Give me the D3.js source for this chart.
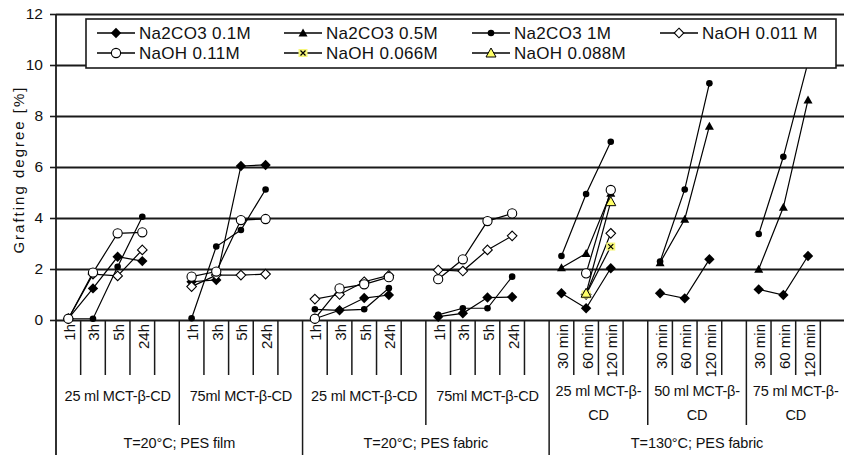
<!DOCTYPE html>
<html>
<head>
<meta charset="utf-8">
<script src="https://cdn.jsdelivr.net/npm/d3@7"></script>
<style>
  html, body { margin: 0; padding: 0; background: #fff; }
  svg { display: block; }
  text { font-family: "Liberation Sans", Arial, sans-serif; fill: #111; }
</style>
</head>
<body>
<svg id="chart" width="844" height="455"></svg>
<script>
// ---------------- DATA ----------------
const timeLabels = [
  "1h","3h","5h","24h","",
  "1h","3h","5h","24h","",
  "1h","3h","5h","24h","",
  "1h","3h","5h","24h","",
  "30 min","60 min","120 min","",
  "30 min","60 min","120 min","",
  "30 min","60 min","120 min",""
];
const subGroupLabels = [
  ["25 ml MCT-β-CD"], ["75ml MCT-β-CD"],
  ["25 ml MCT-β-CD"], ["75ml MCT-β-CD"],
  ["25 ml MCT-β-", "CD"], ["50 ml MCT-β-", "CD"], ["75 ml MCT-β-", "CD"]
];
const subGroupSizes = [5, 5, 5, 5, 4, 4, 4];
const topGroupLabels = ["T=20°C; PES film", "T=20°C; PES fabric", "T=130°C; PES fabric"];
const topGroupSizes = [10, 10, 12];
const yTicks = [0, 2, 4, 6, 8, 10, 12];

const seriesNames = ["Na2CO3 0.1M", "Na2CO3 0.5M", "Na2CO3 1M", "NaOH 0.011 M",
                     "NaOH 0.11M", "NaOH 0.066M", "NaOH 0.088M"];

const na2co3_01 = [0.05, 1.24, 2.48, 2.31, null,  1.5, 1.57, 6.04, 6.08, null,
                   0.05, 0.38, 0.86, 0.98, null,  0.13, 0.26, 0.88, 0.9, null,
                   1.05, 0.46, 2.03, null,  1.05, 0.85, 2.38, null,  1.2, 0.98, 2.51, null];
const na2co3_05 = [null, null, null, null, null,  null, null, null, null, null,
                   null, null, null, null, null,  null, null, null, null, null,
                   2.05, 2.61, 4.97, null,  2.25, 3.95, 7.6, null,  1.99, 4.42, 8.63, null];
const na2co3_1  = [0.05, 0.05, 2.09, 4.05, null,  0.07, 2.88, 3.53, 5.12, null,
                   0.42, 0.38, 0.42, 1.25, null,  0.2, 0.46, 0.46, 1.7, null,
                   2.51, 4.94, 6.99, null,  2.29, 5.12, 9.28, null,  3.37, 6.4, 10.1, null];
const naoh_0011 = [0.05, 1.8, 1.73, 2.75, null,  1.31, 1.76, 1.76, 1.8, null,
                   0.82, 1.0, 1.5, 1.75, null,  1.96, 1.92, 2.75, 3.3, null,
                   null, 1.0, 3.4, null,  null, null, null, null,  null, null, null, null];
const naoh_011  = [0.05, 1.86, 3.4, 3.44, null,  1.7, 1.9, 3.92, 3.96, null,
                   0.05, 1.24, 1.4, 1.68, null,  1.6, 2.38, 3.88, 4.18, null,
                   null, 1.83, 5.1, null,  null, null, null, null,  null, null, null, null];
const naoh_0066 = [null, null, null, null, null,  null, null, null, null, null,
                   null, null, null, null, null,  null, null, null, null, null,
                   null, 1.0, 2.88, null,  null, null, null, null,  null, null, null, null];
const naoh_0088 = [null, null, null, null, null,  null, null, null, null, null,
                   null, null, null, null, null,  null, null, null, null, null,
                   null, 1.05, 4.64, null,  null, null, null, null,  null, null, null, null];

const seriesValues = [na2co3_01, na2co3_05, na2co3_1, naoh_0011, naoh_011, naoh_0066, naoh_0088];
const seriesMarkers = ["diamondFilled", "triangleFilled", "dot", "diamondOpen", "circleOpen", "xYellow", "triYellow"];

// ---------------- CHART ----------------
const svg = d3.select("#chart");
const W = 844, H = 455;
const x = d3.scaleBand().domain(d3.range(timeLabels.length)).range([56, 845]).padding(0);
const y = d3.scaleLinear().domain([0, 12]).range([320, 14]);
const bw = x.bandwidth();

// gridlines
const grid = svg.append("g").attr("transform", "translate(56,0)")
  .call(d3.axisRight(y).tickValues(yTicks).tickSize(W - 56).tickFormat(""));
grid.select(".domain").remove();
grid.selectAll("line").attr("stroke", "#1a1a1a").attr("stroke-width", 1.9);

// y axis
const yAxis = svg.append("g").attr("transform", "translate(56,0)")
  .call(d3.axisLeft(y).tickValues(yTicks).tickSize(6).tickPadding(7).tickFormat(d3.format("d")));
yAxis.select(".domain").remove();
yAxis.selectAll("line").attr("stroke", "#1a1a1a").attr("stroke-width", 1.6);
yAxis.selectAll("text").attr("font-size", 15.5).style("font-family", '"Liberation Sans", Arial, sans-serif').attr("fill", "#111");

// vertical axis line extending down through category area
svg.append("line").attr("x1", 56).attr("x2", 56).attr("y1", 14).attr("y2", H)
  .attr("stroke", "#1a1a1a").attr("stroke-width", 1.8);

// y title
svg.append("text")
  .attr("transform", `translate(18,${y(5.9)}) rotate(-90)`)
  .attr("text-anchor", "middle").attr("dominant-baseline", "central")
  .attr("font-size", 15).attr("letter-spacing", 2).text("Grafting degree [%]");

// category boundary lines
const subBounds = new Set(d3.cumsum(subGroupSizes));
const topBounds = new Set(d3.cumsum(topGroupSizes));
for (let b = 1; b < timeLabels.length; b++) {
  let y2 = 375;
  if (topBounds.has(b)) y2 = H; else if (subBounds.has(b)) y2 = 425;
  svg.append("line").attr("x1", x(b)).attr("x2", x(b)).attr("y1", 320).attr("y2", y2)
    .attr("stroke", "#1a1a1a").attr("stroke-width", 1.5);
}

// time labels
timeLabels.forEach((t, i) => {
  if (!t) return;
  svg.append("text")
    .attr("transform", `translate(${x(i) + bw / 2 + 1},324) rotate(-90)`)
    .attr("text-anchor", "end").attr("dominant-baseline", "central")
    .attr("font-size", 15).text(t);
});

// sub group labels
let start = 0;
subGroupSizes.forEach((s, gi) => {
  const cx = x(start) + (s * bw) / 2;
  const lines = subGroupLabels[gi];
  lines.forEach((ln, li) => {
    svg.append("text").attr("x", cx)
      .attr("y", lines.length === 1 ? 396 : 391 + li * 24)
      .attr("text-anchor", "middle").attr("dominant-baseline", "central")
      .attr("font-size", 14.5).attr("letter-spacing", -0.2).text(ln);
  });
  start += s;
});

// top group labels
start = 0;
topGroupSizes.forEach((s, gi) => {
  const cx = x(start) + (s * bw) / 2;
  svg.append("text").attr("x", cx).attr("y", 443)
    .attr("text-anchor", "middle").attr("dominant-baseline", "central")
    .attr("font-size", 14.5).attr("letter-spacing", -0.1).text(topGroupLabels[gi]);
  start += s;
});

// markers
function drawMarker(g, type, cx, cy) {
  const m = g.append("g").attr("transform", `translate(${cx},${cy})`);
  switch (type) {
    case "diamondFilled":
      m.append("path").attr("d", "M0,-5.2L5.2,0L0,5.2L-5.2,0Z").attr("fill", "#000"); break;
    case "triangleFilled":
      m.append("path").attr("d", "M0,-4.5L4.5,3.5L-4.5,3.5Z").attr("fill", "#000"); break;
    case "dot":
      m.append("circle").attr("r", 3.3).attr("fill", "#000"); break;
    case "diamondOpen":
      m.append("path").attr("d", "M0,-4.8L4.8,0L0,4.8L-4.8,0Z").attr("fill", "#fff")
        .attr("stroke", "#000").attr("stroke-width", 1.1); break;
    case "circleOpen":
      m.append("circle").attr("r", 4.6).attr("fill", "#fff").attr("stroke", "#000").attr("stroke-width", 1.1); break;
    case "xYellow":
      m.append("rect").attr("x", -4.5).attr("y", -4).attr("width", 9).attr("height", 8).attr("fill", "#f7f77a");
      m.append("path").attr("d", "M-2.5,-2.5L2.5,2.5M2.5,-2.5L-2.5,2.5").attr("stroke", "#000").attr("stroke-width", 1.2); break;
    case "triYellow":
      m.append("path").attr("d", "M0,-5L5,4L-5,4Z").attr("fill", "#ffff66")
        .attr("stroke", "#000").attr("stroke-width", 1); break;
  }
}

// series
const line = d3.line().defined(d => d.v != null).x(d => x(d.i) + bw / 2).y(d => y(d.v));
seriesValues.forEach((vals, si) => {
  const g = svg.append("g");
  const pts = vals.map((v, i) => ({ i, v }));
  g.append("path").attr("d", line(pts)).attr("fill", "none").attr("stroke", "#000").attr("stroke-width", 1.2);
  pts.filter(d => d.v != null).forEach(d => drawMarker(g, seriesMarkers[si], x(d.i) + bw / 2, y(d.v)));
});

// legend
const leg = svg.append("g");
leg.append("rect").attr("x", 86).attr("y", 19).attr("width", 750).attr("height", 49)
  .attr("fill", "#fff").attr("stroke", "#1a1a1a").attr("stroke-width", 1.6);
const colX = [97, 284, 472, 660];
seriesNames.forEach((n, i) => {
  const col = i % 4, row = Math.floor(i / 4);
  const lx = colX[col], ly = 33 + row * 20;
  leg.append("line").attr("x1", lx).attr("x2", lx + 38).attr("y1", ly).attr("y2", ly)
    .attr("stroke", "#000").attr("stroke-width", 1.3);
  drawMarker(leg, seriesMarkers[i], lx + 19, ly);
  leg.append("text").attr("x", lx + 42).attr("y", ly).attr("dominant-baseline", "central")
    .attr("font-size", 17).attr("letter-spacing", 0.3).text(n);
});
</script>
</body>
</html>
